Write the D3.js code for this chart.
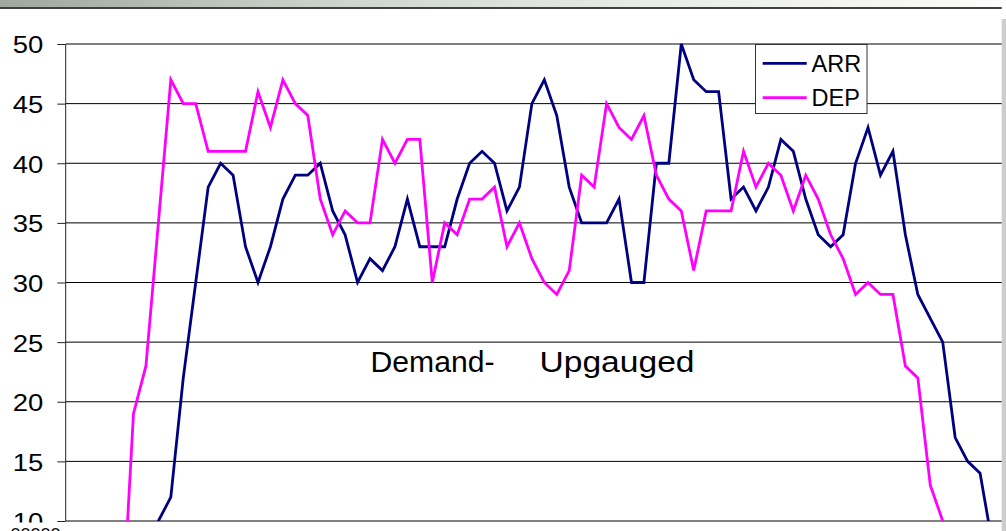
<!DOCTYPE html>
<html>
<head>
<meta charset="utf-8">
<script src="https://cdn.jsdelivr.net/npm/d3@7"></script>
<style>
  html, body { margin: 0; padding: 0; background: #fff; }
  svg { display: block; font-family: "Liberation Sans", Arial, sans-serif; }
</style>
</head>
<body>
<svg id="chart" width="1006" height="531"></svg>
<script>
// Quarter-hour slots of the day (category axis)
const slots = d3.range(96).map(i => d3.format("02")(Math.floor(i / 4)) + d3.format("02")((i % 4) * 15));

// Flights per quarter hour, from the first slot of the day
const arrivals = [
  0, 0, 0, 1, 2, 3, 5, 10, 12, 22, 30, 38, 40, 39, 33, 30, 33, 37, 39, 39,
  40, 36, 34, 30, 32, 31, 33, 37, 33, 33, 33, 37, 40, 41, 40, 36, 38, 45, 47, 44,
  38, 35, 35, 35, 37, 30, 30, 40, 40, 50, 47, 46, 46, 37, 38, 36, 38, 42, 41, 37,
  34, 33, 34, 40, 43, 39, 41, 34, 29, 27, 25, 17, 15, 14, 8, 4
];
const departures = [
  0, 0, 0, 0, 0, 19, 23, 35, 47, 45, 45, 41, 41, 41, 41, 46, 43, 47, 45, 44,
  37, 34, 36, 35, 35, 42, 40, 42, 42, 30, 35, 34, 37, 37, 38, 33, 35, 32, 30, 29,
  31, 39, 38, 45, 43, 42, 44, 39, 37, 36, 31, 36, 36, 36, 41, 38, 40, 39, 36, 39,
  37, 34, 32, 29, 30, 29, 29, 23, 22, 13, 10, 6, 3, 1, 0, 0
];
const yTicks = [10, 15, 20, 25, 30, 35, 40, 45, 50];
const series = [
  { name: "ARR", values: arrivals, color: "#000080" },
  { name: "DEP", values: departures, color: "#ff00ff" }
];

const svg = d3.select("#chart");
const defs = svg.append("defs");
const plot = { left: 66, right: 1001.7, top: 44, bottom: 521 };

const x = d3.scaleBand().domain(slots).range([65, 65 + 96 * 12.45]).padding(0);
const y = d3.scaleLinear().domain([10, 50]).range([plot.bottom, plot.top]);
const cx = i => x(slots[i]) + x.bandwidth() / 2;

// Header strip and frame
const grad = defs.append("linearGradient").attr("id", "hdr");
[[0, "#9ea89e"], [0.35, "#cfd6cf"], [0.65, "#e9ece7"], [0.95, "#f9f9f8"], [1, "#ffffff"]]
  .forEach(([o, c]) => grad.append("stop").attr("offset", o).attr("stop-color", c));
svg.append("rect").attr("x", 0).attr("y", 0).attr("width", 1006).attr("height", 7).attr("fill", "url(#hdr)");
svg.append("line").attr("x1", 0).attr("x2", 1001.7).attr("y1", 8).attr("y2", 8)
  .attr("stroke", "#000").attr("stroke-width", 1.3);
svg.append("rect").attr("x", 1001.7).attr("y", 19).attr("width", 4.3).attr("height", 512).attr("fill", "#cdcdcd");

defs.append("clipPath").attr("id", "plotClip")
  .append("rect").attr("x", plot.left).attr("y", 30)
  .attr("width", plot.right - plot.left).attr("height", plot.bottom - 30);
// value labels end where the category label band begins
defs.append("clipPath").attr("id", "labelClip")
  .append("rect").attr("x", -70).attr("y", 0).attr("width", 80).attr("height", 522);

// Horizontal gridlines
svg.append("g").selectAll("line").data(yTicks).join("line")
  .attr("x1", plot.left).attr("x2", plot.right)
  .attr("y1", d => y(d)).attr("y2", d => y(d))
  .attr("stroke", "#000").attr("stroke-width", 1);

// Value axis
const yAxis = d3.axisLeft(y).tickValues(yTicks).tickSize(8.4).tickPadding(0).tickFormat(d3.format("d"));
const ya = svg.append("g").attr("transform", `translate(${65.7},0)`).call(yAxis);
ya.attr("font-family", null).attr("font-size", null);
ya.select(".domain").attr("stroke", "#222").attr("stroke-width", 1).attr("d", `M0,${plot.top}V${plot.bottom}`);
ya.selectAll(".tick line").attr("stroke", "#222");
ya.selectAll(".tick text")
  .attr("x", -22.5).attr("dy", "0.36em").attr("y", 0.4)
  .attr("font-size", 23.5).attr("fill", "#000")
  .attr("text-anchor", "end")
  .attr("textLength", 30.5).attr("lengthAdjust", "spacingAndGlyphs");
ya.selectAll(".tick").attr("clip-path", null);
ya.selectAll(".tick").each(function(d) {
  // clip in the tick's own coordinates
  const id = "lc" + d;
  defs.append("clipPath").attr("id", id)
    .append("rect").attr("x", -70).attr("y", -100).attr("width", 80).attr("height", 522 - y(d) + 100);
  d3.select(this).select("text").attr("clip-path", `url(#${id})`);
});

// Series lines
const line = d3.line().x((d, i) => cx(i)).y(d => y(d));
svg.append("g").attr("clip-path", "url(#plotClip)")
  .selectAll("path").data(series).join("path")
  .attr("d", s => line(s.values))
  .attr("fill", "none").attr("stroke", s => s.color)
  .attr("stroke-width", 2.8).attr("stroke-linejoin", "miter");

// Annotation
const note = svg.append("g").attr("font-size", 30).attr("fill", "#000");
note.append("text").attr("x", 370.5).attr("y", 372).text("Demand-")
  .attr("textLength", 124).attr("lengthAdjust", "spacingAndGlyphs");
note.append("text").attr("x", 539.5).attr("y", 372).text("Upgauged")
  .attr("textLength", 155).attr("lengthAdjust", "spacingAndGlyphs");

// Legend
const legend = svg.append("g");
legend.append("rect").attr("x", 755.5).attr("y", 44.5).attr("width", 111.5).attr("height", 69)
  .attr("fill", "#fff").attr("stroke", "#333").attr("stroke-width", 1);
const item = legend.selectAll("g.item").data(series).join("g").attr("class", "item")
  .attr("transform", (d, i) => `translate(0,${63.3 + i * 34.4})`);
item.append("line").attr("x1", 762.7).attr("x2", 806.7)
  .attr("stroke", d => d.color).attr("stroke-width", 2.8);
item.append("text").attr("x", 811.5).attr("y", 8.4).attr("font-size", 23.5)
  .attr("fill", "#000").text(d => d.name);

// First category label, below the frame edge
svg.append("text").attr("x", 10.5).attr("y", 539.5).attr("font-size", 17).attr("fill", "#000")
  .attr("textLength", 50).attr("lengthAdjust", "spacingAndGlyphs").text("00000");
</script>
</body>
</html>
